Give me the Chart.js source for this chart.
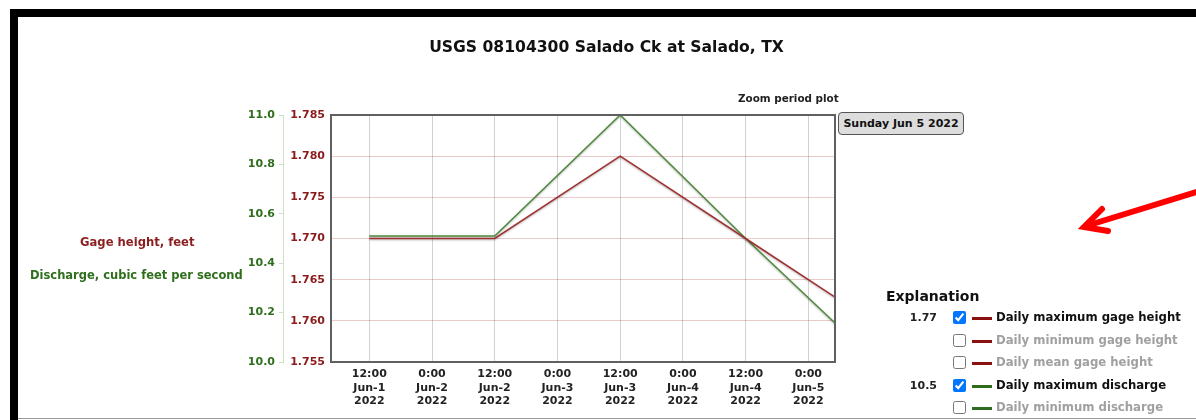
<!DOCTYPE html>
<html>
<head>
<meta charset="utf-8">
<script src="https://cdn.jsdelivr.net/npm/chart.js@4/dist/chart.umd.min.js"></script>
<style>
  html,body{margin:0;padding:0;background:#fff;}
  body{width:1196px;height:420px;position:relative;overflow:hidden;font-family:"DejaVu Sans",Verdana,sans-serif;}
  #topbar{position:absolute;left:10px;top:9px;width:1186px;height:8px;background:#000;}
  #leftbar{position:absolute;left:10px;top:9px;width:8px;height:411px;background:#000;}
  #bottomline{position:absolute;left:18px;top:418px;width:1178px;height:1px;background:#999;}
  #cv{position:absolute;left:0;top:0;}
  .t{position:absolute;white-space:nowrap;font-weight:bold;}
  #title{left:0;width:1213px;text-align:center;top:38px;font-size:15.6px;color:#111;}
  #zoomlbl{left:738px;top:92px;font-size:10.4px;color:#222;}
  #tip{position:absolute;left:838px;top:112px;width:124px;height:21px;background:#ddd;border:1px solid #555;border-radius:4px;font-size:11px;font-weight:bold;color:#111;text-align:center;line-height:21px;}
  #gtitle{left:80px;top:235px;font-size:11.6px;color:#8b1f1f;}
  #dtitle{left:30px;top:268px;font-size:11.5px;color:#2f6e1c;}
  #legend{position:absolute;left:886px;top:288px;width:310px;white-space:nowrap;}
  #legend .h{font-size:14px;font-weight:bold;color:#111;height:21px;}
  .row{position:relative;height:22.5px;font-size:11.7px;font-weight:bold;white-space:nowrap;}
  .row .v{position:absolute;left:0;width:51px;text-align:right;top:2px;font-size:11px;color:#222;}
  .row input{position:absolute;left:67px;top:2px;margin:0;width:13px;height:13px;}
  .row .sw{position:absolute;left:86px;top:8px;width:20px;height:3px;}
  .row .lb{position:absolute;left:110px;top:1px;}
  .on .lb{color:#111;} .off .lb{color:#a0a0a0;}
  #arrow{position:absolute;left:0;top:0;}
</style>
</head>
<body>
<div id="topbar"></div><div id="leftbar"></div><div id="bottomline"></div>
<canvas id="cv" width="1196" height="420"></canvas>
<div class="t" id="title">USGS 08104300 Salado Ck at Salado, TX</div>
<div class="t" id="zoomlbl">Zoom period plot</div>
<div id="tip">Sunday Jun 5 2022</div>
<div class="t" id="gtitle">Gage height, feet</div>
<div class="t" id="dtitle">Discharge, cubic feet per second</div>
<div id="legend">
  <div class="h">Explanation</div>
  <div class="row on"><span class="v">1.77</span><input type="checkbox" checked><span class="sw" style="background:#8b1010"></span><span class="lb">Daily maximum gage height</span></div>
  <div class="row off"><span class="v"></span><input type="checkbox"><span class="sw" style="background:#8b1010"></span><span class="lb">Daily minimum gage height</span></div>
  <div class="row off"><span class="v"></span><input type="checkbox"><span class="sw" style="background:#8b1010"></span><span class="lb">Daily mean gage height</span></div>
  <div class="row on"><span class="v">10.5</span><input type="checkbox" checked><span class="sw" style="background:#2e6b1c"></span><span class="lb">Daily maximum discharge</span></div>
  <div class="row off"><span class="v"></span><input type="checkbox"><span class="sw" style="background:#2e6b1c"></span><span class="lb">Daily minimum discharge</span></div>
</div>
<svg id="arrow" width="1196" height="420">
  <polyline points="1200,191 1086,226" fill="none" stroke="#f00" stroke-width="6" stroke-linecap="round"/>
  <polyline points="1102,209 1084,227 1108,231" fill="none" stroke="#f00" stroke-width="6" stroke-linecap="round" stroke-linejoin="miter"/>
</svg>
<script>
// Hours since Jun-1 2022 00:00 (daily values plotted at noon)
const pointHours = [12, 36, 60, 84, 108];
const gageHeight = [1.770, 1.770, 1.780, 1.770, 1.760];
const discharge = [10.51, 10.51, 11.0, 10.50, 10.02];
const xTickHours = [12, 24, 36, 48, 60, 72, 84, 96];
const xTickLabels = [
  ["12:00","Jun-1","2022"],["0:00","Jun-2","2022"],["12:00","Jun-2","2022"],["0:00","Jun-3","2022"],
  ["12:00","Jun-3","2022"],["0:00","Jun-4","2022"],["12:00","Jun-4","2022"],["0:00","Jun-5","2022"]
];
const gageTicks = [1.755, 1.760, 1.765, 1.770, 1.775, 1.780, 1.785];
const dischargeTicks = [10.0, 10.2, 10.4, 10.6, 10.8, 11.0];

const RED = '#8b1a1a', GREEN = '#2f6e1c';
const font = {family:'"DejaVu Sans", Verdana, sans-serif', size:11, weight:'bold'};

const shadow = {
  id:'shadow',
  beforeDatasetDraw(chart){ const c=chart.ctx; c.save(); c.shadowColor='rgba(0,0,0,0.3)'; c.shadowBlur=2; c.shadowOffsetY=1; },
  afterDatasetDraw(chart){ chart.ctx.restore(); }
};
const frame = {
  id:'frame',
  afterDraw(chart){ const a=chart.chartArea, c=chart.ctx; c.save(); c.strokeStyle='#606060'; c.lineWidth=2; c.strokeRect(a.left,a.top,a.right-a.left,a.bottom-a.top); c.restore(); }
};

new Chart(document.getElementById('cv'), {
  type:'line',
  data:{
    datasets:[
      {label:'Daily maximum gage height', data:pointHours.map((h,i)=>({x:h,y:gageHeight[i]})), yAxisID:'yG', borderColor:'#a03030', borderWidth:1.5, pointRadius:0, tension:0},
      {label:'Daily maximum discharge', data:pointHours.map((h,i)=>({x:h,y:discharge[i]})), yAxisID:'yD', borderColor:'#4d8a3c', borderWidth:1.5, pointRadius:0, tension:0}
    ]
  },
  options:{
    responsive:false, animation:false, events:[],
    layout:{padding:{left:240, top:115, right:361, bottom:0}},
    plugins:{legend:{display:false}, tooltip:{enabled:false}, title:{display:false}},
    scales:{
      x:{type:'linear', min:4.67, max:101.1,
        afterBuildTicks(s){ s.ticks = xTickHours.map(v=>({value:v})); },
        afterFit(s){ s.height = 58; },
        ticks:{font, color:'#222', padding:6, maxRotation:0, autoSkip:false,
          callback(v){ const i=xTickHours.indexOf(v); return i>=0? xTickLabels[i] : ''; }},
        grid:{color:'#d2d2d2', drawTicks:false, tickLength:0},
        border:{display:false}
      },
      yG:{type:'linear', position:'left', weight:0, min:1.755, max:1.785,
        afterBuildTicks(s){ s.ticks = gageTicks.map(v=>({value:v})); },
        afterFit(s){ s.width = 48; },
        ticks:{font, color:RED, padding:6, callback(v){ return v.toFixed(3); }},
        grid:{color:'rgba(190,80,80,0.3)', drawTicks:false, tickLength:0},
        border:{display:false}
      },
      yD:{type:'linear', position:'left', weight:1, min:10.0, max:11.0,
        afterBuildTicks(s){ s.ticks = dischargeTicks.map(v=>({value:v})); },
        afterFit(s){ s.width = 43; },
        ticks:{font, color:GREEN, padding:4, callback(v){ return v.toFixed(1); }},
        grid:{drawOnChartArea:false, drawTicks:true, tickLength:4, color:'#cfe0c8'},
        border:{display:true, color:'#cfe0c8'}
      }
    }
  },
  plugins:[shadow, frame]
});
</script>
</body>
</html>
